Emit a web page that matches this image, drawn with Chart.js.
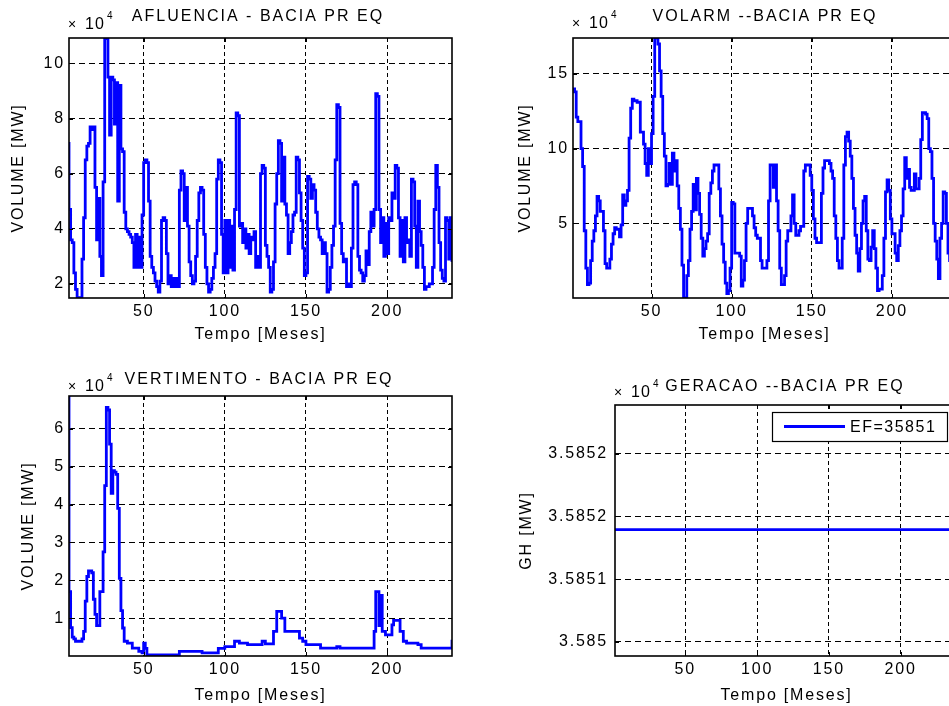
<!DOCTYPE html>
<html>
<head>
<meta charset="utf-8">
<title>Bacia PR EQ</title>
<script src="https://cdn.jsdelivr.net/npm/chart.js@4.4.1/dist/chart.umd.min.js"></script>
<style>
  html, body { margin: 0; padding: 0; background: #fff; }
  body { width: 949px; height: 706px; overflow: hidden; position: relative; }
  canvas { position: absolute; }
</style>
</head>
<body>
<canvas id="afluencia" width="474" height="345" style="left:0;top:0"></canvas>
<canvas id="volarm" width="500" height="345" style="left:479px;top:0"></canvas>
<canvas id="vertimento" width="474" height="346" style="left:0;top:360px"></canvas>
<canvas id="geracao" width="500" height="346" style="left:479px;top:360px"></canvas>
<script>
// Values in units of 10^4 (as on the original axes)
const mesTicks = [50, 100, 150, 200];

// AFLUENCIA - from month 3 to 240
const mesInicialAfl = 3;
const afluencia = [
  7.1, 4.7, 3.6, 3.5, 2.4, 1.8, 1.5, 1.5,
  1.5, 2.9, 4.4, 6.5, 7.0, 7.1, 7.7, 7.6, 7.7, 5.5,
  3.6, 5.1, 3.0, 2.3, 5.7, 10.9, 10.9, 9.5, 7.4, 9.5,
  9.4, 7.8, 9.3, 5.0, 9.2, 6.9, 6.8, 4.6, 4.0, 3.9,
  3.8, 3.7, 3.5, 2.6, 3.8, 2.6, 3.7, 2.6, 4.5, 6.4,
  6.5, 6.4, 5.0, 3.0, 2.6, 2.4, 2.1, 1.9, 1.7, 2.1,
  4.3, 4.4, 4.3, 3.1, 2.0, 2.3, 1.9, 2.2, 1.9, 2.2,
  1.9, 5.4, 6.1, 6.0, 4.3, 5.5, 4.1, 2.8, 2.3, 2.0,
  2.1, 3.0, 4.3, 5.3, 5.5, 5.4, 3.8, 2.6, 2.0, 1.7,
  1.8, 2.2, 2.6, 3.1, 5.8, 6.5, 6.4, 3.8, 2.4, 4.3,
  2.4, 4.3, 2.6, 4.1, 2.5, 4.7, 8.2, 8.1, 4.1, 4.2,
  3.5, 4.0, 3.3, 3.8, 3.1, 3.7, 3.6, 3.9, 2.6, 3.0,
  2.6, 6.0, 6.3, 6.2, 3.4, 3.0, 2.6, 1.7, 1.8, 2.8,
  4.9, 6.0, 7.2, 7.1, 5.0, 6.6, 4.9, 4.5, 3.1, 3.5,
  3.9, 4.5, 4.6, 6.6, 6.5, 5.3, 4.3, 3.3, 2.3, 2.4,
  5.9, 5.8, 5.1, 5.6, 5.4, 4.6, 4.0, 3.7, 3.6, 3.1,
  3.5, 3.1, 1.7, 1.8, 2.6, 3.4, 4.1, 6.5, 8.5, 8.4,
  4.2, 3.1, 2.8, 2.9, 1.9, 2.0, 1.9, 3.3, 5.6, 5.7,
  5.6, 3.0, 2.5, 2.4, 2.1, 2.3, 3.2, 2.7, 3.9, 4.6,
  4.1, 4.7, 8.9, 8.8, 4.7, 3.5, 4.4, 3.0, 4.2, 3.1,
  4.4, 4.3, 5.3, 5.1, 6.3, 6.2, 4.4, 3.0, 4.3, 2.8,
  4.4, 3.5, 3.6, 3.0, 5.8, 5.7, 4.1, 2.6, 5.0, 3.9,
  3.4, 2.6, 1.8, 1.9, 1.9, 2.0, 2.0, 2.6, 4.7, 6.3,
  5.5, 3.5, 2.5, 2.2, 2.1, 4.4, 4.3, 2.9, 4.4, 2.8
];
const aflTicks = [2, 4, 6, 8, 10];

// VOLARM - from month 1 to 240
const mesInicialVol = 1;
const volarm = [
  14.0, 13.8, 12.1, 11.8, 11.8, 10.0, 8.8, 4.5, 2.0, 0.9,
  1.0, 2.5, 3.8, 4.5, 5.5, 6.8, 6.5, 5.8, 5.8, 4.5,
  2.3, 2.0, 2.0, 2.6, 3.6, 4.3, 4.7, 4.6, 4.6, 4.1,
  4.9, 6.9, 6.2, 6.5, 7.2, 10.7, 12.7, 13.3, 13.2, 13.2,
  13.1, 13.1, 11.1, 11.1, 10.3, 9.0, 8.2, 10.0, 9.0, 11.0,
  13.5, 17.4, 17.4, 17.0, 15.2, 13.5, 11.0, 9.5, 7.5, 7.6,
  9.0, 7.6, 9.7, 8.5, 9.2, 7.5, 6.0, 4.6, 2.2, 0.0,
  0.0, 1.5, 2.5, 4.6, 5.8, 7.6, 5.9, 8.0, 7.0, 5.6,
  4.0, 2.8, 3.3, 3.8, 4.3, 7.0, 7.7, 8.5, 8.9, 8.9,
  8.9, 7.3, 5.5, 3.6, 2.4, 1.0, 0.3, 0.5, 2.0, 6.4,
  6.3, 3.0, 3.0, 3.0, 2.8, 0.8, 1.2, 2.5, 5.0, 6.0,
  6.0, 6.0, 5.5, 4.7, 4.2, 4.0, 4.0, 2.5, 2.0, 2.0,
  2.0, 2.5, 6.5, 8.9, 8.9, 7.4, 8.9, 6.5, 4.5, 2.0,
  0.9, 0.9, 1.5, 3.8, 4.5, 4.5, 5.5, 6.9, 5.0, 4.2,
  4.2, 4.5, 4.8, 4.8, 8.5, 8.9, 8.9, 8.9, 8.2, 7.2,
  5.3, 4.0, 3.7, 3.7, 3.7, 7.0, 8.7, 9.2, 9.2, 9.2,
  9.0, 8.5, 8.0, 5.5, 4.0, 2.5, 2.0, 2.0, 4.0, 8.9,
  10.8, 11.1, 10.5, 9.5, 8.0, 6.0, 4.2, 3.0, 1.8, 3.3,
  5.0, 6.5, 6.8, 4.5, 2.6, 2.5, 3.4, 4.5, 3.3, 2.0,
  0.5, 0.6, 0.6, 1.5, 4.0, 7.1, 7.9, 7.2, 5.3, 4.3,
  4.3, 3.0, 2.5, 3.5, 4.5, 5.5, 7.3, 9.4, 8.0, 8.6,
  7.4, 7.2, 7.2, 8.3, 7.3, 7.3, 8.0, 10.6, 12.4, 12.4,
  12.3, 12.0, 10.0, 9.8, 8.0, 5.0, 3.8, 2.6, 1.3, 4.0,
  5.0, 7.1, 7.0, 5.0, 3.0, 2.5, 3.5, 5.0, 6.0, 5.5
];
const volTicks = [5, 10, 15];

// VERTIMENTO - from month 3 to 240
const mesInicialVert = 3;
const vertimento = [
  9.0,
  1.7, 0.75, 0.5, 0.45, 0.39, 0.39, 0.39, 0.39, 0.45, 0.65,
  1.45, 2.1, 2.25, 2.25, 2.2, 1.5, 1.1, 0.8, 0.8, 1.7,
  1.7, 2.75, 4.5, 6.57, 6.5, 5.6, 4.3, 4.9, 4.86, 4.8,
  3.9, 2.05, 1.2, 0.74, 0.39, 0.39, 0.34, 0.34, 0.34, 0.21,
  0.21, 0.21, 0.21, 0.12, 0.12, 0.08, 0.34, 0.2, 0.03, 0.03,
  0.03, 0.03, 0.03, 0.03, 0.03, 0.03, 0.03, 0.03, 0.03, 0.03,
  0.03, 0.03, 0.03, 0.03, 0.03, 0.03, 0.03, 0.03, 0.12, 0.12,
  0.12, 0.12, 0.12, 0.12, 0.12, 0.12, 0.12, 0.12, 0.12, 0.12,
  0.12, 0.12, 0.08, 0.08, 0.08, 0.08, 0.08, 0.08, 0.08, 0.08,
  0.08, 0.08, 0.2, 0.2, 0.2, 0.2, 0.25, 0.25, 0.25, 0.25,
  0.25, 0.25, 0.39, 0.39, 0.39, 0.34, 0.34, 0.34, 0.34, 0.34,
  0.3, 0.3, 0.3, 0.3, 0.3, 0.3, 0.3, 0.3, 0.3, 0.39,
  0.39, 0.32, 0.32, 0.32, 0.32, 0.32, 0.65, 0.65, 1.18, 1.18,
  1.18, 1.0, 1.0, 0.65, 0.65, 0.65, 0.65, 0.65, 0.65, 0.65,
  0.65, 0.65, 0.47, 0.47, 0.39, 0.39, 0.3, 0.3, 0.3, 0.3,
  0.3, 0.3, 0.3, 0.3, 0.3, 0.21, 0.21, 0.21, 0.21, 0.21,
  0.21, 0.21, 0.21, 0.21, 0.21, 0.25, 0.25, 0.21, 0.21, 0.21,
  0.21, 0.21, 0.21, 0.21, 0.21, 0.21, 0.21, 0.21, 0.21, 0.21,
  0.21, 0.21, 0.21, 0.21, 0.21, 0.21, 0.21, 0.21, 0.65, 1.7,
  1.7, 0.8, 1.6, 0.65, 0.65, 0.56, 0.56, 0.56, 0.56, 0.82,
  0.94, 0.94, 0.94, 0.94, 0.65, 0.65, 0.39, 0.39, 0.34, 0.34,
  0.34, 0.34, 0.34, 0.34, 0.34, 0.3, 0.3, 0.21, 0.21, 0.21,
  0.21, 0.21, 0.21, 0.21, 0.21, 0.21, 0.21, 0.21, 0.21, 0.21,
  0.21, 0.21, 0.21, 0.21, 0.21, 0.21, 0.43
];
const vertTicks = [1, 2, 3, 4, 5, 6];

// GERACAO - constant energy
const geracaoMeses = [1, 240];
const geracao = [3.585143, 3.585143];
const gerTicks = [3.585, 3.58508, 3.58516, 3.58524];
const gerTickLabels = ['3.585', '3.5851', '3.5852', '3.5852'];

const FONTE = '"Liberation Sans", Arial, Helvetica, sans-serif';

// Box, inner tick marks, title, x10^4 label and legend
const moldura = {
  id: 'moldura',
  beforeDraw(chart) {
    chart.ctx.letterSpacing = '1.8px';
  },
  afterDatasetsDraw(chart, args, o) {
    const { ctx, chartArea: a, scales } = chart;
    ctx.save();
    ctx.setLineDash([]);
    ctx.strokeStyle = '#000';
    ctx.lineWidth = 1;
    ctx.beginPath();
    scales.x.ticks.forEach(t => {
      const px = Math.round(scales.x.getPixelForValue(t.value)) + 0.5;
      ctx.moveTo(px, a.top); ctx.lineTo(px, a.top + 4);
      ctx.moveTo(px, a.bottom); ctx.lineTo(px, a.bottom - 4);
    });
    scales.y.ticks.forEach(t => {
      const py = Math.round(scales.y.getPixelForValue(t.value)) + 0.5;
      ctx.moveTo(a.left, py); ctx.lineTo(a.left + 4, py);
      ctx.moveTo(a.right, py); ctx.lineTo(a.right - 4, py);
    });
    ctx.stroke();
    ctx.lineWidth = 1.6;
    ctx.strokeRect(a.left, a.top, a.right - a.left, a.bottom - a.top);

    if (o.legenda) {
      const L = o.legenda;
      const x0 = a.right - L.dr - L.w;
      const y0 = a.top + L.dt + L.h / 2;
      ctx.fillStyle = '#fff';
      ctx.fillRect(x0, a.top + L.dt, L.w, L.h);
      ctx.lineWidth = 1.2;
      ctx.strokeRect(x0 + 0.5, a.top + L.dt + 0.5, L.w, L.h);
      ctx.strokeStyle = '#0000ff';
      ctx.lineWidth = 2.8;
      ctx.beginPath();
      ctx.moveTo(x0 + 12, y0); ctx.lineTo(x0 + 73, y0);
      ctx.stroke();
      ctx.fillStyle = '#000';
      ctx.font = '16px ' + FONTE;
      ctx.letterSpacing = '1.5px';
      ctx.textAlign = 'left';
      ctx.textBaseline = 'middle';
      ctx.fillText(L.texto, x0 + 78, y0 + 1);
    }

    ctx.fillStyle = '#000';
    ctx.font = '16px ' + FONTE;
    ctx.letterSpacing = '2px';
    ctx.textAlign = 'center';
    ctx.textBaseline = 'middle';
    ctx.fillText(o.titulo, o.tituloX, o.tituloY);

    ctx.textAlign = 'left';
    ctx.textBaseline = 'alphabetic';
    ctx.letterSpacing = '1px';
    const base = a.top - o.expDy;
    ctx.font = '14px ' + FONTE;
    ctx.fillText('\u00d7', a.left - 1, base);
    ctx.font = '16px ' + FONTE;
    ctx.fillText('10', a.left + 16, base);
    ctx.font = '10px ' + FONTE;
    ctx.fillText('4', a.left + 38, base - 10);
    ctx.restore();
  }
};

function painel(id, cfg) {
  const fonte = { family: FONTE, size: 16 };
  return new Chart(document.getElementById(id), {
    type: 'line',
    data: {
      datasets: [{
        label: cfg.titulo,
        data: cfg.meses.map((m, i) => ({ x: m, y: cfg.valores[i] })),
        borderColor: '#0000ff',
        borderWidth: 2.8,
        pointRadius: 0,
        stepped: 'before',
        fill: false,
        clip: 0
      }]
    },
    options: {
      responsive: false,
      animation: false,
      devicePixelRatio: 1,
      layout: { padding: { top: cfg.top, right: cfg.right, left: 0, bottom: 0 } },
      plugins: {
        legend: { display: false },
        tooltip: { enabled: false },
        moldura: {
          titulo: cfg.titulo, tituloX: cfg.tituloX, tituloY: cfg.tituloY,
          expDy: cfg.expDy, legenda: cfg.legenda || null
        }
      },
      scales: {
        x: {
          type: 'linear',
          min: cfg.xMin,
          max: 240,
          afterBuildTicks: s => { s.ticks = mesTicks.map(v => ({ value: v })); },
          afterFit: s => { s.height = cfg.xAltura; },
          grid: { color: '#000', lineWidth: 1, drawTicks: false },
          border: { display: false, dash: [4, 3] },
          ticks: { color: '#000', font: fonte, padding: 4, maxRotation: 0, autoSkip: false },
          title: { display: true, text: 'Tempo [Meses]', color: '#000', font: fonte, padding: { top: 0, bottom: 1 } }
        },
        y: {
          type: 'linear',
          min: cfg.yMin,
          max: cfg.yMax,
          afterBuildTicks: s => { s.ticks = cfg.yTicks.map(v => ({ value: v })); },
          afterFit: s => { s.width = cfg.yLargura; },
          grid: { color: '#000', lineWidth: 1, drawTicks: false },
          border: { display: false, dash: [6, 4] },
          ticks: {
            color: '#000', font: fonte, padding: cfg.yPad, autoSkip: false,
            callback: (v, i) => cfg.yLabels ? cfg.yLabels[i] : String(v)
          },
          title: { display: true, text: cfg.yTitulo, color: '#000', font: fonte, padding: { top: cfg.yTituloPad, bottom: 0 } }
        }
      }
    },
    plugins: [moldura]
  });
}

painel('afluencia', {
  titulo: 'AFLUENCIA - BACIA PR EQ', tituloX: 258, tituloY: 17,
  meses: afluencia.map((_, i) => mesInicialAfl + i), valores: afluencia,
  xMin: 4, yMin: 1.49, yMax: 10.92, yTicks: aflTicks,
  top: 38, right: 22, xAltura: 47, yLargura: 69, yPad: 4,
  yTitulo: 'VOLUME [MW]', yTituloPad: 9, expDy: 9
});

painel('volarm', {
  titulo: 'VOLARM --BACIA PR EQ', tituloX: 286, tituloY: 17,
  meses: volarm.map((_, i) => mesInicialVol + i), valores: volarm,
  xMin: 1, yMin: 0, yMax: 17.4, yTicks: volTicks,
  top: 38, right: 23, xAltura: 47, yLargura: 94, yPad: 4,
  yTitulo: 'VOLUME [MW]', yTituloPad: 37, expDy: 10
});

painel('vertimento', {
  titulo: 'VERTIMENTO - BACIA PR EQ', tituloX: 259, tituloY: 20,
  meses: vertimento.map((_, i) => mesInicialVert + i), valores: vertimento,
  xMin: 4, yMin: 0, yMax: 6.87, yTicks: vertTicks,
  top: 36, right: 22, xAltura: 50, yLargura: 69, yPad: 4,
  yTitulo: 'VOLUME [MW]', yTituloPad: 19, expDy: 5
});

painel('geracao', {
  titulo: 'GERACAO --BACIA PR EQ', tituloX: 306, tituloY: 27,
  meses: geracaoMeses, valores: geracao,
  xMin: 1, yMin: 3.584982, yMax: 3.585302, yTicks: gerTicks, yLabels: gerTickLabels,
  top: 45, right: 21, xAltura: 50, yLargura: 136, yPad: 7,
  yTitulo: 'GH [MW]', yTituloPad: 38, expDy: 8,
  legenda: { texto: 'EF=35851', w: 175, h: 29, dr: 11, dt: 7 }
});
</script>
</body>
</html>
